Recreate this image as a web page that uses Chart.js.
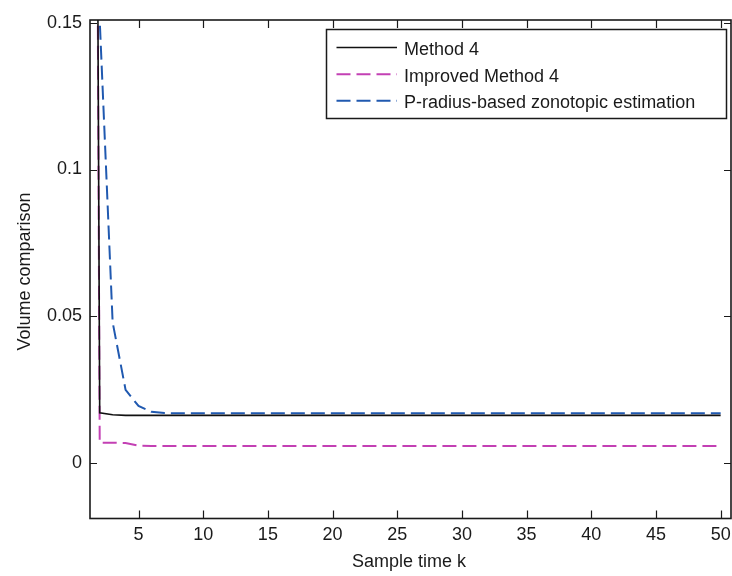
<!DOCTYPE html>
<html>
<head>
<meta charset="utf-8">
<script src="https://cdn.jsdelivr.net/npm/chart.js@4.4.0/dist/chart.umd.min.js"></script>
<style>
  html, body { margin: 0; padding: 0; background: #fff; }
  #wrap { width: 732px; height: 576px; }
</style>
</head>
<body>
<div id="wrap"><canvas id="volChart" width="732" height="576"></canvas></div>
<script>
// sample instants k = 1..50
const sampleK = [1, 2, 3, 4, 5, 6, 7, 8, 9, 10, 11, 12, 13, 14, 15, 16, 17, 18, 19, 20,
  21, 22, 23, 24, 25, 26, 27, 28, 29, 30, 31, 32, 33, 34, 35, 36, 37, 38, 39, 40,
  41, 42, 43, 44, 45, 46, 47, 48, 49, 50];

// (k=1 is far above the visible range)
const method4 = [1.0, 0.0172, 0.0165, 0.0163, 0.0163, 0.0163, 0.0163, 0.0163, 0.0163, 0.0163,
  0.0163, 0.0163, 0.0163, 0.0163, 0.0163, 0.0163, 0.0163, 0.0163, 0.0163, 0.0163,
  0.0163, 0.0163, 0.0163, 0.0163, 0.0163, 0.0163, 0.0163, 0.0163, 0.0163, 0.0163,
  0.0163, 0.0163, 0.0163, 0.0163, 0.0163, 0.0163, 0.0163, 0.0163, 0.0163, 0.0163,
  0.0163, 0.0163, 0.0163, 0.0163, 0.0163, 0.0163, 0.0163, 0.0163, 0.0163, 0.0163];

const improvedMethod4 = [1.0, 0.0070, 0.0070, 0.0069, 0.0060, 0.0059, 0.0059, 0.0059, 0.0059, 0.0059,
  0.0059, 0.0059, 0.0059, 0.0059, 0.0059, 0.0059, 0.0059, 0.0059, 0.0059, 0.0059,
  0.0059, 0.0059, 0.0059, 0.0059, 0.0059, 0.0059, 0.0059, 0.0059, 0.0059, 0.0059,
  0.0059, 0.0059, 0.0059, 0.0059, 0.0059, 0.0059, 0.0059, 0.0059, 0.0059, 0.0059,
  0.0059, 0.0059, 0.0059, 0.0059, 0.0059, 0.0059, 0.0059, 0.0059, 0.0059, 0.0059];

const pRadius = [1.0, 0.151, 0.048, 0.025, 0.0195, 0.0175, 0.0171, 0.0170, 0.0170, 0.0170,
  0.0170, 0.0170, 0.0170, 0.0170, 0.0170, 0.0170, 0.0170, 0.0170, 0.0170, 0.0170,
  0.0170, 0.0170, 0.0170, 0.0170, 0.0170, 0.0170, 0.0170, 0.0170, 0.0170, 0.0170,
  0.0170, 0.0170, 0.0170, 0.0170, 0.0170, 0.0170, 0.0170, 0.0170, 0.0170, 0.0170,
  0.0170, 0.0170, 0.0170, 0.0170, 0.0170, 0.0170, 0.0170, 0.0170, 0.0170, 0.0170];

const seriesNames = ["Method 4", "Improved Method 4", "P-radius-based zonotopic estimation"];
const xTicks = [5, 10, 15, 20, 25, 30, 35, 40, 45, 50];
const yTicks = [0, 0.05, 0.1, 0.15];
const yTickLabels = ["0", "0.05", "0.1", "0.15"];
const xTitle = "Sample time k";
const yTitle = "Volume comparison";

const FONT = "'Liberation Sans', Arial, sans-serif";
const INK = "#1a1a1a";

function toPoints(vals) {
  return vals.map((v, i) => ({ x: sampleK[i], y: v }));
}

// MATLAB-like box: frame, inward ticks on all sides, axis titles, boxed legend
const matlabBox = {
  id: "matlabBox",
  afterDraw(chart) {
    const c = chart.ctx;
    const a = chart.chartArea;
    const xs = chart.scales.x, ys = chart.scales.y;
    c.save();
    c.strokeStyle = INK;
    c.lineWidth = 1.6;
    c.strokeRect(a.left, a.top, a.right - a.left, a.bottom - a.top);

    c.lineWidth = 1.2;
    c.beginPath();
    xTicks.forEach(v => {
      const px = Math.round(xs.getPixelForValue(v)) + 0.5;
      c.moveTo(px, a.bottom); c.lineTo(px, a.bottom - 8);
      c.moveTo(px, a.top); c.lineTo(px, a.top + 8);
    });
    yTicks.forEach(v => {
      const py = Math.round(ys.getPixelForValue(v)) + 0.5;
      c.moveTo(a.left, py); c.lineTo(a.left + 7, py);
      c.moveTo(a.right, py); c.lineTo(a.right - 7, py);
    });
    c.stroke();

    // axis titles
    c.fillStyle = INK;
    c.font = "18px " + FONT;
    c.textAlign = "center";
    c.textBaseline = "alphabetic";
    c.fillText(xTitle, 409, 566.5);
    c.save();
    c.translate(29.5, 271.5);
    c.rotate(-Math.PI / 2);
    c.fillText(yTitle, 0, 0);
    c.restore();

    // legend
    const box = { l: 326.5, t: 29.5, r: 726.5, b: 118.5 };
    c.fillStyle = "#fff";
    c.fillRect(box.l, box.t, box.r - box.l, box.b - box.t);
    c.strokeStyle = INK;
    c.lineWidth = 1.5;
    c.strokeRect(box.l, box.t, box.r - box.l, box.b - box.t);
    const baselines = [55, 81.7, 108.3];
    chart.data.datasets.forEach((ds, i) => {
      const yLine = baselines[i] - 7.5;
      c.beginPath();
      c.strokeStyle = ds.borderColor;
      c.lineWidth = ds.borderWidth;
      c.setLineDash(ds.borderDash || []);
      c.moveTo(336.5, yLine); c.lineTo(397, yLine);
      c.stroke();
      c.setLineDash([]);
      c.fillStyle = INK;
      c.textAlign = "left";
      c.fillText(ds.label, 404, baselines[i]);
    });
    c.restore();
  }
};

const ctx = document.getElementById("volChart").getContext("2d");
new Chart(ctx, {
  type: "line",
  data: {
    datasets: [
      {
        label: seriesNames[0],
        data: toPoints(method4),
        borderColor: "#111111",
        borderWidth: 1.6,
        pointRadius: 0,
        tension: 0
      },
      {
        label: seriesNames[1],
        data: toPoints(improvedMethod4),
        borderColor: "#c340b4",
        borderWidth: 2,
        borderDash: [14, 6],
        pointRadius: 0,
        tension: 0
      },
      {
        label: seriesNames[2],
        data: toPoints(pRadius),
        borderColor: "#2059b0",
        borderWidth: 2,
        borderDash: [14, 6],
        pointRadius: 0,
        tension: 0
      }
    ]
  },
  options: {
    responsive: false,
    animation: false,
    devicePixelRatio: 1,
    layout: { padding: { top: 20, right: 1, left: 0, bottom: 0 } },
    plugins: {
      legend: { display: false },
      tooltip: { enabled: false }
    },
    scales: {
      x: {
        type: "linear",
        min: 1.25,
        max: 50.8,
        grid: { display: false, drawTicks: false },
        border: { display: false },
        ticks: { color: INK, font: { family: FONT, size: 18 }, padding: 6, maxRotation: 0 },
        afterBuildTicks: s => { s.ticks = xTicks.map(v => ({ value: v })); },
        afterFit: s => { s.height = 57.5; s.paddingLeft = 0; s.paddingRight = 0; }
      },
      y: {
        type: "linear",
        min: -0.0188,
        max: 0.1509,
        grid: { display: false, drawTicks: false },
        border: { display: false },
        ticks: {
          color: INK,
          font: { family: FONT, size: 18 },
          padding: 8,
          callback: v => {
            const i = yTicks.findIndex(t => Math.abs(t - v) < 1e-9);
            return i >= 0 ? yTickLabels[i] : "";
          }
        },
        afterBuildTicks: s => { s.ticks = yTicks.map(v => ({ value: v })); },
        afterFit: s => { s.width = 90; s.paddingTop = 0; s.paddingBottom = 0; }
      }
    }
  },
  plugins: [matlabBox]
});
</script>
</body>
</html>
